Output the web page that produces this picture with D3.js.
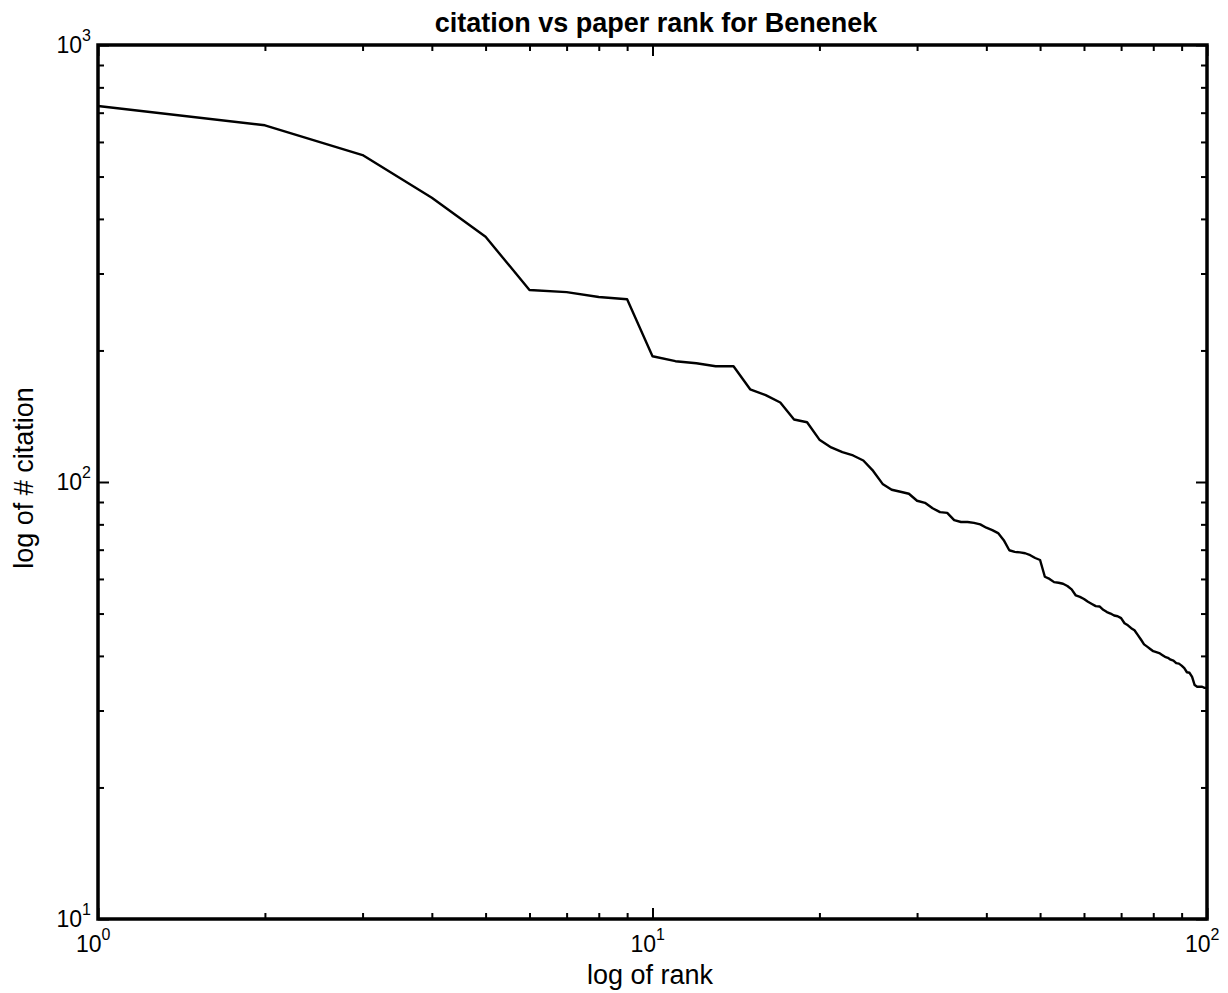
<!DOCTYPE html>
<html>
<head>
<meta charset="utf-8">
<script src="https://cdn.jsdelivr.net/npm/d3@7/dist/d3.min.js"></script>
<style>
  html, body { margin: 0; padding: 0; background: #fff; }
  svg { display: block; }
  text { font-family: "Liberation Sans", Arial, Helvetica, sans-serif; fill: #000; }
</style>
</head>
<body>
<svg id="chart" width="1228" height="993"></svg>
<script>
// ---- data ----
const titleText = "citation vs paper rank for Benenek";
const xLabelText = "log of rank";
const yLabelText = "log of # citation";
const ranks = d3.range(1, 101);
const citations = [
  725, 655, 560, 447, 364, 275, 272, 265, 262, 194,
  189, 187, 184, 184, 163, 158, 152, 139, 137, 125,
  120, 117, 115, 112, 106, 99, 96, 95, 94, 90.6,
  89.6, 87.1, 85.3, 85, 81.8, 81, 81, 80.6, 80, 78.6,
  77.6, 76.4, 73.6, 69.8, 69.2, 69, 68.7, 68, 67, 66.3,
  60.7, 60, 59, 58.8, 58.5, 57.8, 56.8, 55, 54.6, 54,
  53.2, 52.6, 52, 51.9, 51, 50.4, 50, 49.5, 49.3, 48.8,
  47.5, 47, 46.3, 45.8, 44.7, 43.6, 42.5, 42, 41.5, 41,
  40.8, 40.6, 40.2, 39.8, 39.6, 39.2, 39, 38.5, 38.4, 38,
  37.5, 36.7, 36.6, 35.8, 34.3, 34, 34, 34, 33.8, 33.8
];
const xMajorTicks = [1, 10, 100];
const xTickExponents = ["0", "1", "2"];
const yMajorTicks = [10, 100, 1000];
const yTickExponents = ["1", "2", "3"];

// ---- layout ----
const L = 98, R = 1207, T = 45, B = 919;
const svg = d3.select("#chart");
const x = d3.scaleLog().domain([1, 100]).range([L, R]);
const y = d3.scaleLog().domain([10, 1000]).range([B, T]);

function minorTicks(scale) {
  const [a, b] = scale.domain();
  const out = [];
  for (let d = a; d < b; d *= 10) for (let k = 2; k <= 9; k++) out.push(d * k);
  return out;
}
const xMinor = minorTicks(x), yMinor = minorTicks(y);

const g = svg.append("g");
const strokeW = 2.4;

function styleAxis(sel) {
  sel.select(".domain").remove();
  sel.selectAll("line").attr("stroke", "#000").attr("stroke-width", 2);
  sel.selectAll("text").remove();
}
// bottom
g.append("g").attr("transform", `translate(0,${B})`)
  .call(d3.axisBottom(x).tickValues(xMajorTicks).tickSize(-11).tickFormat("")).call(styleAxis);
g.append("g").attr("transform", `translate(0,${B})`)
  .call(d3.axisBottom(x).tickValues(xMinor).tickSize(-6).tickFormat("")).call(styleAxis);
// top
g.append("g").attr("transform", `translate(0,${T})`)
  .call(d3.axisTop(x).tickValues(xMajorTicks).tickSize(-11).tickFormat("")).call(styleAxis);
g.append("g").attr("transform", `translate(0,${T})`)
  .call(d3.axisTop(x).tickValues(xMinor).tickSize(-6).tickFormat("")).call(styleAxis);
// left
g.append("g").attr("transform", `translate(${L},0)`)
  .call(d3.axisLeft(y).tickValues(yMajorTicks).tickSize(-11).tickFormat("")).call(styleAxis);
g.append("g").attr("transform", `translate(${L},0)`)
  .call(d3.axisLeft(y).tickValues(yMinor).tickSize(-6).tickFormat("")).call(styleAxis);
// right
g.append("g").attr("transform", `translate(${R},0)`)
  .call(d3.axisRight(y).tickValues(yMajorTicks).tickSize(-11).tickFormat("")).call(styleAxis);
g.append("g").attr("transform", `translate(${R},0)`)
  .call(d3.axisRight(y).tickValues(yMinor).tickSize(-6).tickFormat("")).call(styleAxis);

// box
g.append("rect").attr("x", L).attr("y", T).attr("width", R - L).attr("height", B - T)
  .attr("fill", "none").attr("stroke", "#000").attr("stroke-width", 3.5);

// data line
const line = d3.line().x((d, i) => x(ranks[i])).y(d => y(d));
g.append("path").datum(citations).attr("d", line)
  .attr("fill", "none").attr("stroke", "#000").attr("stroke-width", strokeW)
  .attr("stroke-linejoin", "round");

// tick labels
xMajorTicks.forEach((v, i) => {
  const t = svg.append("text").attr("x", x(v) - 22).attr("y", B + 33)
    .attr("font-size", 23);
  t.append("tspan").text("10");
  t.append("tspan").attr("dy", -12).attr("font-size", 16).text(xTickExponents[i]);
});
yMajorTicks.forEach((v, i) => {
  const t = svg.append("text").attr("x", L - 7).attr("y", y(v) + 8)
    .attr("text-anchor", "end").attr("font-size", 23);
  t.append("tspan").text("10");
  t.append("tspan").attr("dy", -12).attr("font-size", 16).text(yTickExponents[i]);
});

// title and axis labels
svg.append("text").attr("x", 656).attr("y", 32).attr("text-anchor", "middle")
  .attr("font-size", 27).attr("font-weight", "bold").text(titleText);
svg.append("text").attr("x", 650).attr("y", 984).attr("text-anchor", "middle")
  .attr("font-size", 27).text(xLabelText);
svg.append("text").attr("transform", `translate(33,478) rotate(-90)`)
  .attr("text-anchor", "middle").attr("font-size", 27).text(yLabelText);
</script>
</body>
</html>
